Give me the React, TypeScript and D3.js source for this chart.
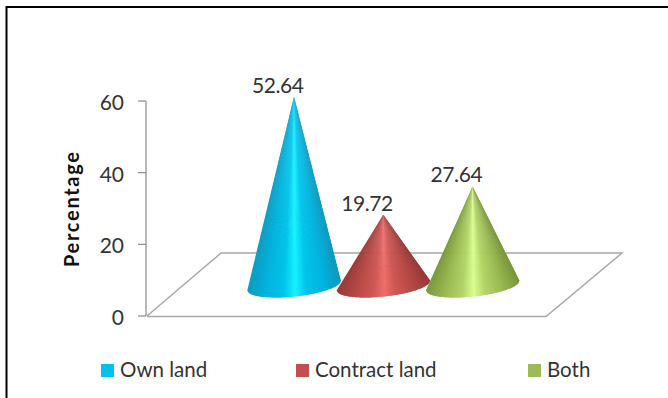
import React from "react";
import * as d3 from "d3";

const categories = ["Own land", "Contract land", "Both"];
const values = [52.64, 19.72, 27.64];
const valueLabels = ["52.64", "19.72", "27.64"];
const yTicks = [0, 20, 40, 60];
const legendColors = ["#00c0f0", "#c0504d", "#9bbb59"];
const coneStops = [
  ["#0f9cc2", "#00b4de", "#00c4ea", "#16f2ff", "#00c4ea", "#00b4de", "#0f98be"],
  ["#9a3c3a", "#b84946", "#cf5754", "#ee6d6a", "#cf5754", "#b84946", "#973a38"],
  ["#7c9a3e", "#9aba52", "#b2d468", "#d8ff8e", "#b2d468", "#9aba52", "#78963c"],
];
const shadeStops = [-1, -0.62, -0.25, 0, 0.25, 0.62, 1];
const sliceCount = 120;
const font = "Lato, 'Open Sans', sans-serif";

const width = 668;
const height = 398;
const rx = 47;
const ry = 11;
const tilt = (-6 * Math.PI) / 180;

export default function App() {
  // The value axis sits at x=146; the cones stand on a floor raised above the axis zero.
  const y = d3.scaleLinear().domain([0, 60]).range([316, 101]);
  const unit = y(0) - y(1);
  const baseY = 285.5;
  const x = d3.scalePoint<string>().domain(categories).range([294, 472.6]);
  const legendX = d3.scaleOrdinal<string, number>().domain(categories).range([101, 296, 528]);
  const floor = d3.line()([[147, 316], [221, 253], [622, 253], [546, 316.5], [147, 316.5]]) ?? "";
  const across = d3.range(sliceCount + 1).map((k) => -1 + (2 * k) / sliceCount);

  // A point on the front half of a cone's tilted base, u running from -1 (left) to 1 (right).
  const basePoint = (cx: number, u: number): [number, number] => {
    const px = u * rx;
    const py = ry * Math.sqrt(Math.max(0, 1 - u * u));
    return [cx + px * Math.cos(tilt) - py * Math.sin(tilt), baseY + px * Math.sin(tilt) + py * Math.cos(tilt)];
  };

  return (
    <svg
      width={width}
      height={height}
      style={{ position: "absolute", left: 0, top: 0, background: "#fff" }}
      fontFamily={font}
    >
      <path d="M6.5 398V7H668" fill="none" stroke="#000" strokeWidth={2} />

      <path d={floor} fill="none" stroke="#a6a6a6" strokeWidth={1.4} />
      <line x1={146} x2={146} y1={y(60)} y2={y(0)} stroke="#8c8c8c" strokeWidth={1.2} />
      {yTicks.map((t) => (
        <g key={t}>
          <line x1={138} x2={146} y1={y(t)} y2={y(t)} stroke="#8c8c8c" strokeWidth={1.2} />
          <text x={124} y={y(t) + 9} textAnchor="end" fontSize={21} fill="#333">
            {t}
          </text>
        </g>
      ))}
      <text
        transform="translate(79,209.5) rotate(-90)"
        textAnchor="middle"
        fontSize={20}
        fontWeight={700}
        fill="#111"
        textLength={115}
      >
        Percentage
      </text>

      {categories.map((c, i) => {
        const cx = x(c) ?? 0;
        const apexY = baseY - values[i] * unit;
        const shade = d3
          .scaleLinear<string>()
          .domain(shadeStops)
          .range(coneStops[i])
          .interpolate(d3.interpolateRgb);
        return (
          <g key={c}>
            {/* Painted left to right; each wedge runs on under the next so no seams show. */}
            {across.slice(1).map((u, k) => {
              const a = basePoint(cx, across[k]);
              const b = basePoint(cx, across[Math.min(k + 2, sliceCount)]);
              return (
                <path
                  key={k}
                  d={d3.line()([[cx, apexY], a, b]) + "Z"}
                  fill={shade((u + across[k]) / 2)}
                />
              );
            })}
            <text x={cx - 16} y={apexY - 4} textAnchor="middle" fontSize={21} fill="#333" textLength={52}>
              {valueLabels[i]}
            </text>
          </g>
        );
      })}

      {categories.map((c, i) => {
        const lx = legendX(c);
        return (
          <g key={c}>
            <rect x={lx} y={364} width={13} height={13} fill={legendColors[i]} />
            <text x={lx + 19} y={377} fontSize={20.5} fill="#333">
              {c}
            </text>
          </g>
        );
      })}
    </svg>
  );
}
